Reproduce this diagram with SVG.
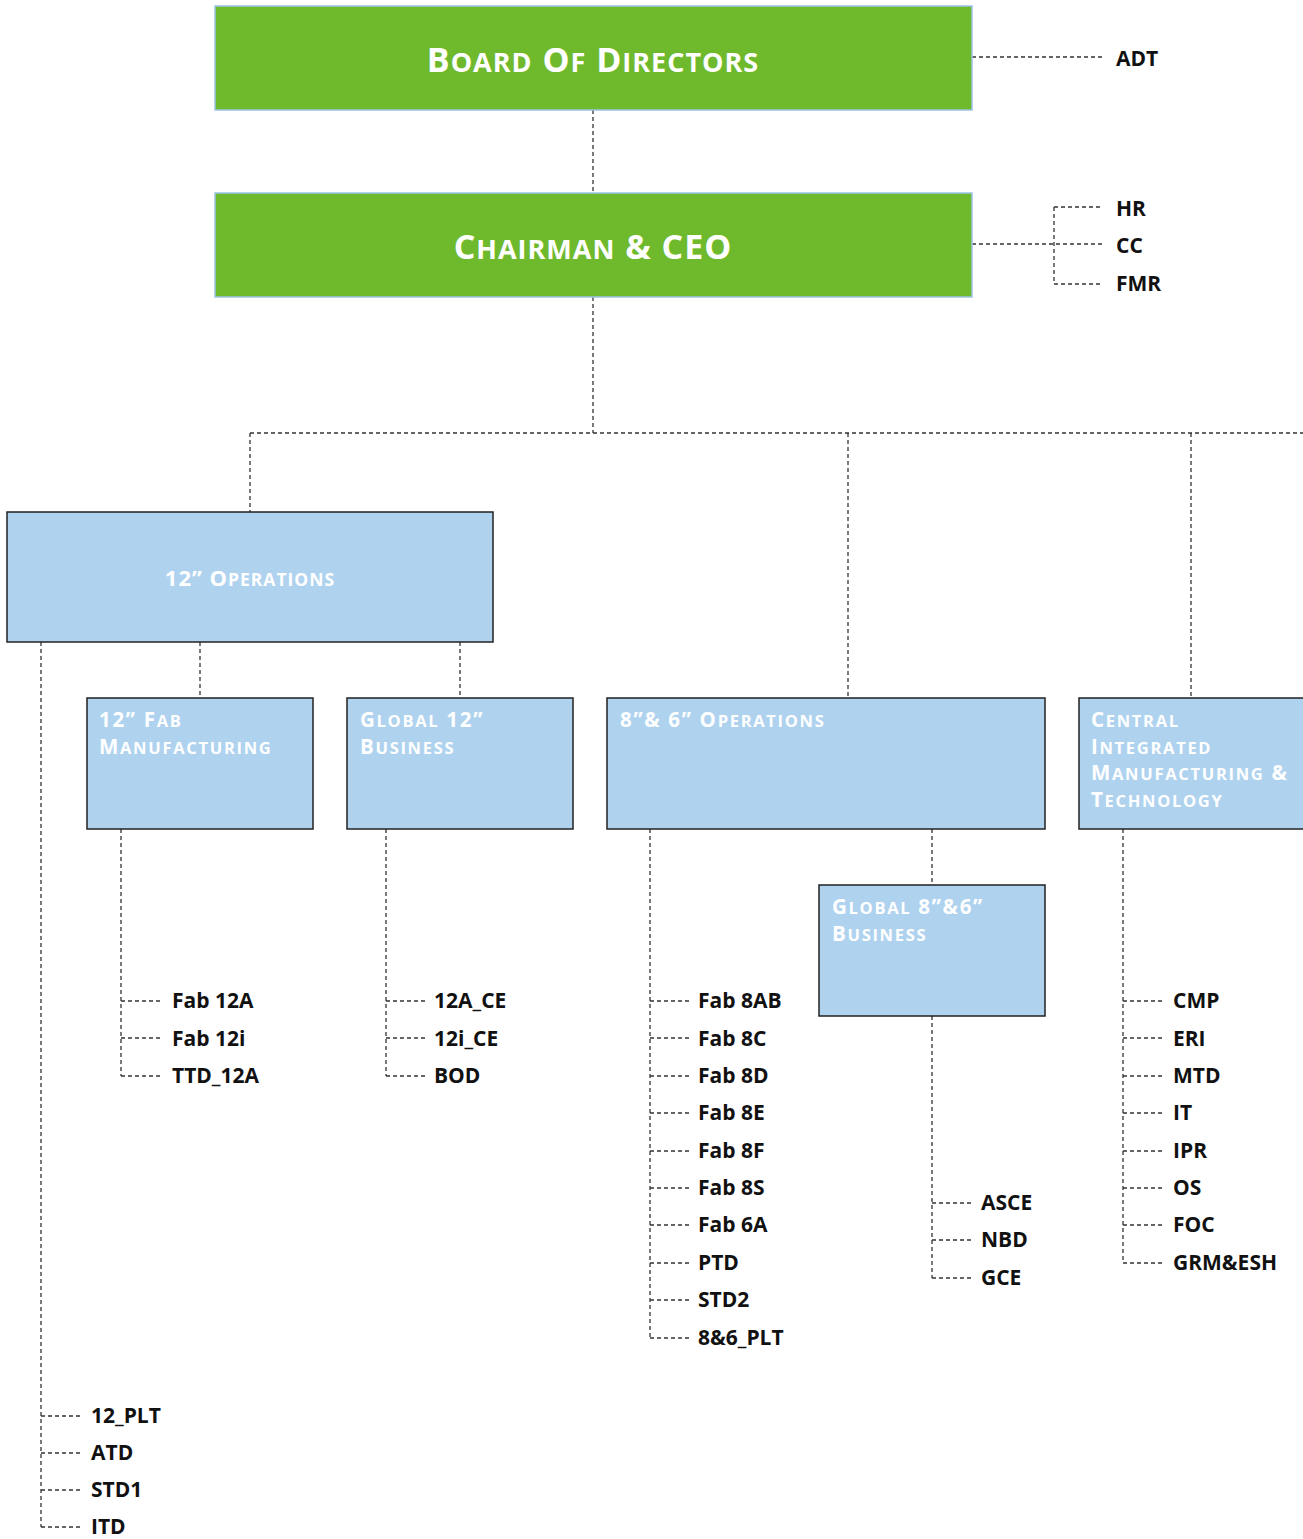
<svg xmlns="http://www.w3.org/2000/svg" width="1303" height="1539" viewBox="0 0 1303 1539">
<style>
.top{fill:#6fb92d;stroke:#9cc3e6;stroke-width:1.5}
.box{fill:#afd3ef;stroke:#222;stroke-width:1.5}
.ttl{font-family:"Open Sans","DejaVu Sans",sans-serif;font-weight:700;fill:#fff;letter-spacing:1px}
.big{font-size:34px}
.big .s{font-size:27px}
.mid{font-size:22px}
.mid .s{font-size:17.5px}
.sm{font-size:20.5px;letter-spacing:1.7px}
.sm .s{font-size:16.5px}
.lbl{font-family:"Open Sans","DejaVu Sans",sans-serif;font-weight:700;font-size:21px;fill:#111}
.c{fill:none;stroke:#333;stroke-width:1.3;stroke-dasharray:4 3}
</style>
<rect width="1303" height="1539" fill="#fff"/>
<g id="connectors">
<path class="c" d="M593 110V193M972 57H1103M972 244H1103M1054 207V284M1054 207H1103M1054 284H1103M593 297V433M250 433H1303M250 433V512M848 433V698M1191 433V698"/>
<path class="c" d="M41 642V1527M200 642V698M460 642V698M41 1416H81M41 1453H81M41 1490H81M41 1527H81"/>
<path class="c" d="M121 829V1076M121 1001H162M121 1038H162M121 1076H162"/>
<path class="c" d="M386 829V1076M386 1001H426M386 1038H426M386 1076H426"/>
<path class="c" d="M650 829V1338M650 1001H690M650 1038H690M650 1076H690M650 1113H690M650 1151H690M650 1188H690M650 1225H690M650 1263H690M650 1300H690M650 1338H690"/>
<path class="c" d="M932 829V885M932 1016V1278M932 1203H972M932 1240H972M932 1278H972"/>
<path class="c" d="M1123 829V1263M1123 1001H1163M1123 1038H1163M1123 1076H1163M1123 1113H1163M1123 1151H1163M1123 1188H1163M1123 1225H1163M1123 1263H1163"/>
</g>
<g id="board">
<rect class="top" x="215" y="6" width="757" height="104"/>
<text class="ttl big" x="593" y="72" text-anchor="middle">B<tspan class="s">OARD</tspan> O<tspan class="s">F</tspan> D<tspan class="s">IRECTORS</tspan></text>
</g>
<g id="adt"><text class="lbl" x="1116" y="66">ADT</text></g>
<g id="ceo">
<rect class="top" x="215" y="193" width="757" height="104"/>
<text class="ttl big" x="593" y="259" text-anchor="middle">C<tspan class="s">HAIRMAN</tspan> &amp; CEO</text>
</g>
<g id="hr"><text class="lbl" x="1116" y="216">HR</text></g>
<g id="cc"><text class="lbl" x="1116" y="253">CC</text></g>
<g id="fmr"><text class="lbl" x="1116" y="291">FMR</text></g>
<g id="ops12">
<rect class="box" x="7" y="512" width="486" height="130"/>
<text class="ttl mid" x="250" y="586" text-anchor="middle">12” O<tspan class="s">PERATIONS</tspan></text>
</g>
<g id="fab12">
<rect class="box" x="87" y="698" width="226" height="131"/>
<text class="ttl sm" x="99" y="727">12” F<tspan class="s">AB</tspan></text>
<text class="ttl sm" x="99" y="754">M<tspan class="s">ANUFACTURING</tspan></text>
</g>
<g id="global12">
<rect class="box" x="347" y="698" width="226" height="131"/>
<text class="ttl sm" x="360" y="727">G<tspan class="s">LOBAL</tspan> 12”</text>
<text class="ttl sm" x="360" y="754">B<tspan class="s">USINESS</tspan></text>
</g>
<g id="ops86">
<rect class="box" x="607" y="698" width="438" height="131"/>
<text class="ttl sm" x="620" y="727">8”&amp; 6” O<tspan class="s">PERATIONS</tspan></text>
</g>
<g id="cimt">
<rect class="box" x="1079" y="698" width="240" height="131"/>
<text class="ttl sm" x="1091" y="727">C<tspan class="s">ENTRAL</tspan></text>
<text class="ttl sm" x="1091" y="754">I<tspan class="s">NTEGRATED</tspan></text>
<text class="ttl sm" x="1091" y="780">M<tspan class="s">ANUFACTURING</tspan> &amp;</text>
<text class="ttl sm" x="1091" y="807">T<tspan class="s">ECHNOLOGY</tspan></text>
</g>
<g id="global86">
<rect class="box" x="819" y="885" width="226" height="131"/>
<text class="ttl sm" x="832" y="914">G<tspan class="s">LOBAL</tspan> 8”&amp;6”</text>
<text class="ttl sm" x="832" y="941">B<tspan class="s">USINESS</tspan></text>
</g>
<g id="labels">
<text class="lbl" x="172" y="1008">Fab 12A</text>
<text class="lbl" x="172" y="1046">Fab 12i</text>
<text class="lbl" x="172" y="1083">TTD_12A</text>
<text class="lbl" x="434" y="1008">12A_CE</text>
<text class="lbl" x="434" y="1046">12i_CE</text>
<text class="lbl" x="434" y="1083">BOD</text>
<text class="lbl" x="698" y="1008">Fab 8AB</text>
<text class="lbl" x="698" y="1046">Fab 8C</text>
<text class="lbl" x="698" y="1083">Fab 8D</text>
<text class="lbl" x="698" y="1120">Fab 8E</text>
<text class="lbl" x="698" y="1158">Fab 8F</text>
<text class="lbl" x="698" y="1195">Fab 8S</text>
<text class="lbl" x="698" y="1232">Fab 6A</text>
<text class="lbl" x="698" y="1270">PTD</text>
<text class="lbl" x="698" y="1307">STD2</text>
<text class="lbl" x="698" y="1345">8&amp;6_PLT</text>
<text class="lbl" x="981" y="1210">ASCE</text>
<text class="lbl" x="981" y="1247">NBD</text>
<text class="lbl" x="981" y="1285">GCE</text>
<text class="lbl" x="1173" y="1008">CMP</text>
<text class="lbl" x="1173" y="1046">ERI</text>
<text class="lbl" x="1173" y="1083">MTD</text>
<text class="lbl" x="1173" y="1120">IT</text>
<text class="lbl" x="1173" y="1158">IPR</text>
<text class="lbl" x="1173" y="1195">OS</text>
<text class="lbl" x="1173" y="1232">FOC</text>
<text class="lbl" x="1173" y="1270">GRM&amp;ESH</text>
<text class="lbl" x="91" y="1423">12_PLT</text>
<text class="lbl" x="91" y="1460">ATD</text>
<text class="lbl" x="91" y="1497">STD1</text>
<text class="lbl" x="91" y="1534">ITD</text>
</g>
</svg>
